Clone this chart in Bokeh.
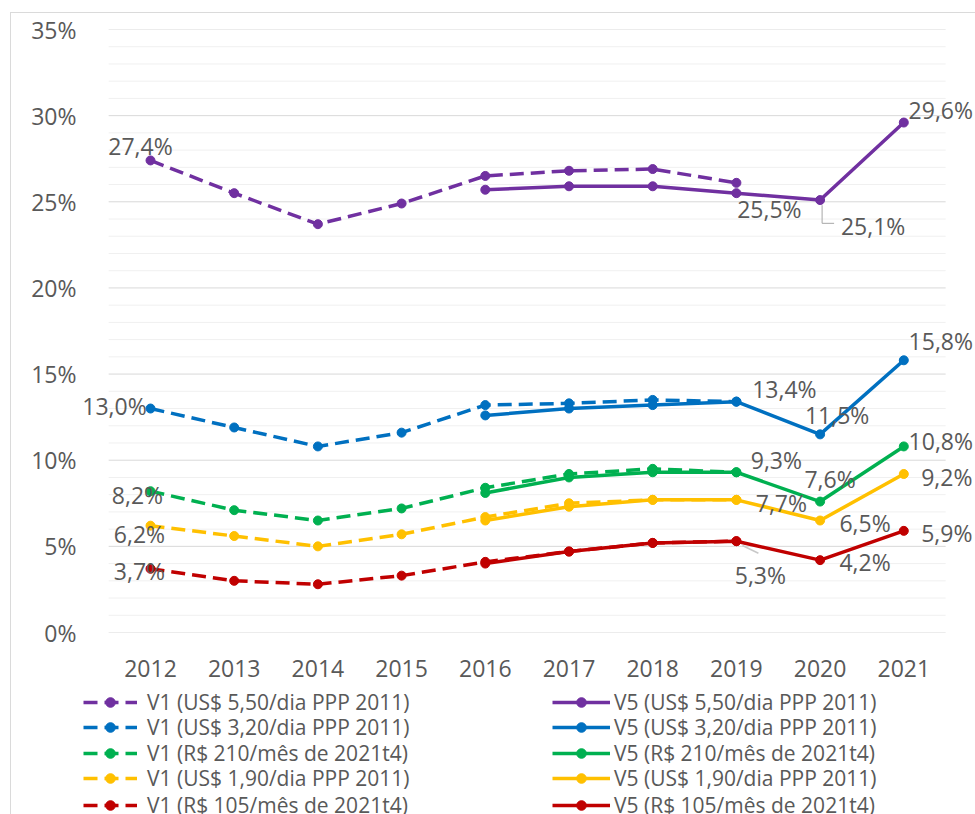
from bokeh.plotting import figure
from bokeh.layouts import column
from bokeh.models import (Range1d, FixedTicker, PrintfTickFormatter,
                          Legend, LegendItem, ColumnDataSource, LabelSet)
from bokeh.core.properties import value
from bokeh.embed import file_html
from bokeh.resources import INLINE

years = [2012, 2013, 2014, 2015, 2016, 2017, 2018, 2019, 2020, 2021]
v1_years = years[:8]
v5_years = years[4:]

v1_550 = [27.4, 25.5, 23.7, 24.9, 26.5, 26.8, 26.9, 26.1]
v5_550 = [25.7, 25.9, 25.9, 25.5, 25.1, 29.6]
v1_320 = [13.0, 11.9, 10.8, 11.6, 13.2, 13.3, 13.5, 13.4]
v5_320 = [12.6, 13.0, 13.2, 13.4, 11.5, 15.8]
v1_210 = [8.2, 7.1, 6.5, 7.2, 8.4, 9.2, 9.5, 9.3]
v5_210 = [8.1, 9.0, 9.3, 9.3, 7.6, 10.8]
v1_190 = [6.2, 5.6, 5.0, 5.7, 6.7, 7.5, 7.7, 7.7]
v5_190 = [6.5, 7.3, 7.7, 7.7, 6.5, 9.2]
v1_105 = [3.7, 3.0, 2.8, 3.3, 4.1, 4.7, 5.2, 5.3]
v5_105 = [4.0, 4.7, 5.2, 5.3, 4.2, 5.9]

names = ["US$ 5,50/dia PPP 2011", "US$ 3,20/dia PPP 2011", "R$ 210/mês de 2021t4",
         "US$ 1,90/dia PPP 2011", "R$ 105/mês de 2021t4"]
colors = ["#7030A0", "#0070C0", "#00B050", "#FFC000", "#C00000"]
v1_series = [v1_550, v1_320, v1_210, v1_190, v1_105]
v5_series = [v5_550, v5_320, v5_210, v5_190, v5_105]
y_ticks = [0, 5, 10, 15, 20, 25, 30, 35]

FONT = "Open Sans"
GREY = "#595959"
DASH = "14 7"
LW = 3.5
MS = 9

# horizontal: frame 83..975 px, one year = 83.7 px, 2012 centred at 150 px
FRAME_LEFT = 83
px_per_year = 83.7
x_start = years[0] - (150 - FRAME_LEFT) / px_per_year
x_end = years[0] + (975 - 150) / px_per_year

PH = 686
p = figure(width=975, height=PH, x_range=Range1d(x_start, x_end),
           y_range=Range1d(y_ticks[0], y_ticks[-1]), output_backend="svg", toolbar_location=None,
           min_border_left=FRAME_LEFT, min_border_right=0, min_border_top=29,
           min_border_bottom=PH - 632)
p.border_fill_color = None
p.background_fill_color = None
p.outline_line_color = None

p.xgrid.visible = False
p.ygrid.visible = False
p.xaxis.ticker = FixedTicker(ticks=years)
p.yaxis.ticker = FixedTicker(ticks=y_ticks)
p.yaxis.formatter = PrintfTickFormatter(format="%d%%")
for ax in (p.xaxis, p.yaxis):
    ax.axis_line_color = None
    ax.major_tick_line_color = None
    ax.minor_tick_line_color = None
    ax.major_label_text_font = FONT
    ax.major_label_text_font_size = "23px"
    ax.major_label_text_color = GREY
p.yaxis.major_label_standoff = 1
p.xaxis.major_label_standoff = 21

# gridlines spanning the category band only (first year-0.5 .. last year+0.5)
grid_minor = [v for v in range(y_ticks[0], y_ticks[-1] + 1) if v % 5 != 0]
gx0, gx1 = years[0] - 0.5, years[-1] + 0.5
p.segment(x0=[gx0] * len(grid_minor), x1=[gx1] * len(grid_minor), y0=grid_minor, y1=grid_minor,
          line_color="#f0f0f0", line_width=1, level="underlay")
p.segment(x0=[gx0] * len(y_ticks), x1=[gx1] * len(y_ticks), y0=y_ticks, y1=y_ticks,
          line_color="#d9d9d9", line_width=1, level="underlay")

sources = []
for col, s1, s5 in zip(colors, v1_series, v5_series):
    src1 = ColumnDataSource(dict(x=v1_years, y=s1))
    p.line("x", "y", source=src1, line_color=col, line_width=LW, line_dash=DASH)
    p.scatter("x", "y", source=src1, size=MS, color=col)
    src5 = ColumnDataSource(dict(x=v5_years, y=s5))
    p.line("x", "y", source=src5, line_color=col, line_width=LW)
    p.scatter("x", "y", source=src5, size=MS, color=col)
    sources.append((src1, src5))

# data labels: (series index, version, year, dx px, dy px (down))
label_specs = [
    (0, 1, 2012, -10, -14), (0, 5, 2021, 37, -13), (0, 5, 2019, 33, 16),
    (0, 5, 2020, 53, 26),
    (1, 1, 2012, -36, -3), (1, 5, 2019, 48, -13), (1, 5, 2020, 17, -19),
    (1, 5, 2021, 37, -19),
    (2, 1, 2012, -13, 4), (2, 5, 2019, 40, -12), (2, 5, 2020, 10, -23),
    (2, 5, 2021, 37, -5),
    (3, 1, 2012, -11, 8), (3, 5, 2019, 45, 3), (3, 5, 2020, 45, 2),
    (3, 5, 2021, 43, 3),
    (4, 1, 2012, -11, 2), (4, 5, 2019, 24, 34), (4, 5, 2020, 45, 2),
    (4, 5, 2021, 43, 2),
]
lx, ly, lt, lox, loy = [], [], [], [], []
for si, ver, yr, dx, dy in label_specs:
    if ver == 1:
        val = v1_series[si][v1_years.index(yr)]
    else:
        val = v5_series[si][v5_years.index(yr)]
    lx.append(yr)
    ly.append(val)
    lt.append(f"{val:.1f}".replace(".", ",") + "%")
    lox.append(dx)
    loy.append(-dy)
lsrc = ColumnDataSource(dict(x=lx, y=ly, text=lt, xo=lox, yo=loy))
p.add_layout(LabelSet(x="x", y="y", text="text", source=lsrc, x_offset="xo", y_offset="yo",
                      text_align="center", text_baseline="middle", text_font=value(FONT),
                      text_font_size=value("23px"), text_color=GREY))

# leader lines for 25,1% and 5,3%
v20 = v5_550[v5_years.index(2020)]
p.line(x=[2020 + 2 / px_per_year, 2020 + 2 / px_per_year, 2020 + 14 / px_per_year],
       y=[v20 - 0.3, v20 - 1.35, v20 - 1.35], line_color="#a6a6a6", line_width=1)
r19 = v5_105[v5_years.index(2019)]
p.line(x=[2019 + 6 / px_per_year, 2019 + 22 / px_per_year],
       y=[r19 - 0.25, r19 - 0.7], line_color="#c8c8c8", line_width=1.5)

# ---- legend strip (separate canvas so the legend is not clipped) ----
LH = 814 - PH
q = figure(width=975, height=LH, x_range=Range1d(0, 1), y_range=Range1d(0, 1),
           output_backend="svg", toolbar_location=None, x_axis_type=None, y_axis_type=None,
           min_border_left=FRAME_LEFT, min_border_right=0, min_border_top=0, min_border_bottom=0)
q.border_fill_color = None
q.background_fill_color = None
q.outline_line_color = None
q.xgrid.visible = False
q.ygrid.visible = False

row_centres = [702, 727, 753, 778, 805]   # page px
ROW_H = 30
for i, (name, col) in enumerate(zip(names, colors)):
    src1, src5 = sources[i]
    a1 = q.line("x", "y", source=src1, line_color=col, line_width=LW, line_dash=DASH)
    b1 = q.scatter("x", "y", source=src1, size=MS, color=col)
    a5 = q.line("x", "y", source=src5, line_color=col, line_width=LW)
    b5 = q.scatter("x", "y", source=src5, size=MS, color=col)
    bottom = LH - (row_centres[i] - PH) - ROW_H / 2
    for label, rends, xloc, gw, st in ((f"V1 ({name})", [a1, b1], 83, 54, 10),
                                       (f"V5 ({name})", [a5, b5], 552, 58, 4)):
        q.add_layout(Legend(items=[LegendItem(label=label, renderers=rends)],
                            location=(xloc - FRAME_LEFT, bottom), padding=0, margin=0,
                            border_line_color=None, background_fill_color=None,
                            label_text_font=FONT, label_text_font_size="21px",
                            label_text_color=GREY, glyph_height=24, label_height=ROW_H,
                            glyph_width=gw, label_standoff=st), "center")

lay = column(p, q, spacing=0)
lay.styles = {
    "background-image": "linear-gradient(#dadada, #dadada), linear-gradient(#dadada, #dadada)",
    "background-size": "1px 100%, 100% 1px",
    "background-position": "10px 12px, 10px 12px",
    "background-repeat": "no-repeat",
}

open("out.html", "w").write(file_html(lay, INLINE))
